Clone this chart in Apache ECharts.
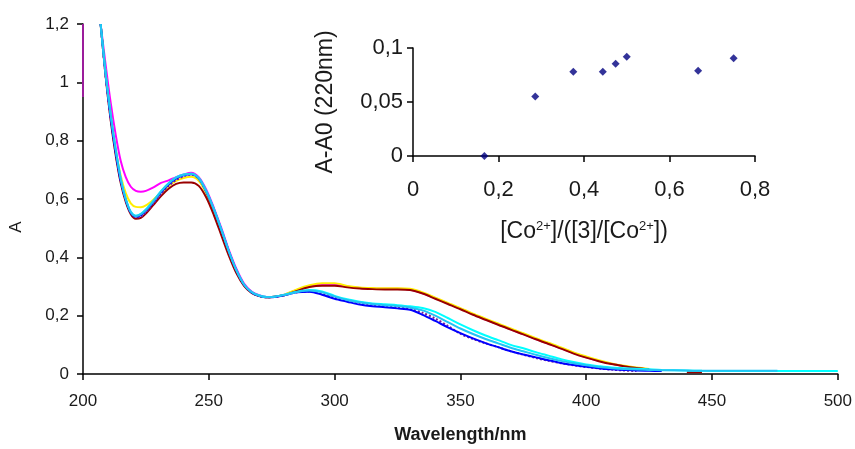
<!DOCTYPE html>
<html>
<head>
<meta charset="utf-8">
<script src="https://cdn.jsdelivr.net/npm/echarts@6/dist/echarts.min.js"></script>
<style>html,body{margin:0;padding:0;background:#fff}#c{width:855px;height:449px}</style>
</head>
<body>
<div id="c"></div>
<script>
// Wavelength grid (nm)
var wl = [207,209,211,213,215,217,219,221,223,225,228,231,234,237,240,243,246,249,252,255,258,261,264,267,270,273,276,
  280,285,290,295,300,305,310,315,320,325,330,335,340,345,350,355,360,365,370,375,380,385,390,395,400,405,410,415,420,425,430,
  440,446,460,476,500];

var magenta = [1.2,1.06,0.93,0.82,0.73,0.675,0.642,0.628,0.625,0.628,0.64,0.655,0.664,0.675,0.684,0.69,0.675,0.632,0.57,0.5,0.425,0.36,0.31,0.283,0.27,0.264,0.265,
  0.272,0.288,0.302,0.308,0.307,0.3,0.295,0.293,0.292,0.292,0.289,0.277,0.26,0.242,0.224,0.205,0.187,0.17,0.153,0.137,0.12,0.104,0.088,0.072,0.057,0.045,0.035,0.027,0.02,0.015,0.012,
  null,null,null,null,null];

var maroon = [1.2,1.02,0.87,0.75,0.655,0.59,0.548,0.532,0.535,0.55,0.58,0.61,0.635,0.652,0.657,0.657,0.645,0.605,0.545,0.475,0.405,0.345,0.302,0.278,0.267,0.263,0.265,
  0.27,0.285,0.298,0.303,0.303,0.297,0.293,0.291,0.29,0.29,0.288,0.276,0.258,0.24,0.222,0.203,0.186,0.169,0.152,0.136,0.119,0.103,0.087,0.07,0.056,0.044,0.034,0.027,0.021,0.016,null,
  0.006,0.006,null,null,null];

var yellow = [1.2,1.03,0.89,0.77,0.68,0.62,0.585,0.573,0.572,0.578,0.598,0.622,0.645,0.662,0.672,0.676,0.662,0.618,0.558,0.488,0.415,0.352,0.305,0.28,0.268,0.263,0.265,
  0.272,0.29,0.304,0.311,0.311,0.302,0.297,0.295,0.294,0.294,0.292,0.28,0.262,0.244,0.226,0.207,0.19,0.173,0.156,0.14,0.123,0.107,0.091,0.074,0.06,0.047,0.036,0.028,0.022,0.017,null,
  null,null,null,null,null];

var purple = [1.2,1.02,0.875,0.755,0.66,0.595,0.552,0.537,0.54,0.555,0.585,0.618,0.645,0.665,0.678,0.684,0.67,0.625,0.563,0.492,0.418,0.353,0.305,0.28,0.268,0.263,0.264,
  0.27,0.28,0.283,0.275,0.262,0.252,0.244,0.237,0.233,0.229,0.223,0.21,0.19,0.165,0.138,0.12,0.105,0.092,0.078,0.066,0.055,0.045,0.037,0.03,0.024,0.019,0.015,0.012,0.01,null,null,
  null,null,null,null,null];

var blue = [1.2,1.025,0.88,0.76,0.662,0.597,0.553,0.54,0.545,0.56,0.59,0.623,0.65,0.67,0.681,0.685,0.67,0.625,0.565,0.494,0.42,0.355,0.306,0.28,0.268,0.263,0.264,
  0.27,0.28,0.282,0.272,0.258,0.248,0.238,0.232,0.229,0.225,0.22,0.203,0.182,0.16,0.14,0.122,0.106,0.092,0.078,0.067,0.057,0.047,0.038,0.031,0.025,0.02,0.016,0.014,0.012,0.011,0.01,
  null,null,null,null,null];

var cyan = [1.2,1.03,0.89,0.77,0.67,0.6,0.556,0.543,0.549,0.564,0.594,0.627,0.654,0.674,0.684,0.687,0.672,0.627,0.566,0.495,0.42,0.355,0.307,0.281,0.269,0.264,0.265,
  0.272,0.282,0.288,0.283,0.268,0.256,0.248,0.242,0.239,0.236,0.232,0.226,0.213,0.192,0.17,0.15,0.132,0.116,0.1,0.088,0.075,0.063,0.051,0.041,0.033,0.027,0.022,0.02,0.018,0.016,0.014,
  0.012,0.011,0.01,0.01,0.01];

var skyblue = [1.2,1.03,0.89,0.77,0.67,0.6,0.555,0.542,0.548,0.563,0.593,0.626,0.653,0.673,0.683,0.687,0.672,0.627,0.566,0.495,0.42,0.355,0.307,0.281,0.269,0.264,0.265,
  0.271,0.281,0.286,0.28,0.266,0.254,0.246,0.24,0.236,0.233,0.228,0.218,0.2,0.178,0.156,0.137,0.12,0.105,0.09,0.078,0.066,0.055,0.045,0.037,0.03,0.024,0.02,0.017,0.015,0.014,0.013,
  0.012,0.011,0.011,0.011,null];

// short purple trace along the left edge at 200 nm
var edgeWl = [200, 200];
var edgeA = [0.95, 1.2];

// Inset: A-A0 (220 nm) vs ratio
var ratio = [0.167, 0.286, 0.375, 0.444, 0.474, 0.5, 0.667, 0.75];
var dA = [0, 0.055, 0.078, 0.078, 0.0855, 0.092, 0.079, 0.0905];

// Tick labels
var mainXTicks = [200, 250, 300, 350, 400, 450, 500];
var mainYTicks = [0, 0.2, 0.4, 0.6, 0.8, 1, 1.2];

function pairs(xs, ys) { return xs.map(function (x, i) { return [x, ys[i]]; }); }
function comma(v) { return String(+(+v).toFixed(3)).replace('.', ','); }

var chart = echarts.init(document.getElementById('c'), null, { renderer: 'canvas' });
var txt = '#1a1a1a';
var font = 'Liberation Sans, Arial, sans-serif';

function lineSeries(name, data, color, type, z) {
  return {
    name: name, type: 'line', xAxisIndex: 0, yAxisIndex: 0,
    data: pairs(wl, data), showSymbol: false, smooth: 0.3, connectNulls: false,
    lineStyle: { color: color, width: 2, type: type || 'solid' }, z: z, silent: true
  };
}

chart.setOption({
  animation: false,
  textStyle: { fontFamily: font },
  grid: [
    { left: 80, top: 24, width: 760, height: 352 },
    { left: 413, top: 48, width: 342, height: 108 }
  ],
  xAxis: [
    {
      gridIndex: 0, type: 'value', min: mainXTicks[0], max: mainXTicks[mainXTicks.length - 1], interval: 50,
      axisLine: { lineStyle: { color: '#000', width: 1.5 } },
      axisTick: { lineStyle: { color: '#000', width: 1.5 }, length: 6 },
      axisLabel: { color: txt, fontSize: 17, margin: 19, fontFamily: font },
      splitLine: { show: false },
      name: 'Wavelength/nm', nameLocation: 'middle', nameGap: 52,
      nameTextStyle: { color: txt, fontSize: 18, fontWeight: 'bold', fontFamily: font }
    },
    {
      gridIndex: 1, type: 'value', min: 0, max: 0.8, interval: 0.2,
      axisLine: { onZero: false, lineStyle: { color: '#000', width: 1.5 } },
      axisTick: { lineStyle: { color: '#000', width: 1.5 }, length: 6 },
      axisLabel: { color: txt, fontSize: 22, margin: 23, formatter: comma, fontFamily: font },
      splitLine: { show: false },
      name: '[Co{s|2+}]/([3]/[Co{s|2+}])', nameLocation: 'middle', nameGap: 64,
      nameTextStyle: { color: txt, fontSize: 23, fontFamily: font,
        rich: { s: { fontSize: 13, verticalAlign: 'top', padding: [0, 0, 11, 0], color: txt } } }
    }
  ],
  yAxis: [
    {
      gridIndex: 0, type: 'value', min: mainYTicks[0], max: mainYTicks[mainYTicks.length - 1], interval: 0.2,
      axisLine: { show: true, lineStyle: { color: '#000', width: 1.5 } },
      axisTick: { show: true, lineStyle: { color: '#000', width: 1.5 }, length: 6 },
      axisLabel: { color: txt, fontSize: 17, margin: 14, formatter: comma, fontFamily: font },
      splitLine: { show: false },
      name: 'A', nameLocation: 'middle', nameGap: 58,
      nameTextStyle: { color: txt, fontSize: 17, fontFamily: font, padding: [0, 56, 0, 0] }
    },
    {
      gridIndex: 1, type: 'value', min: 0, max: 0.1, interval: 0.05,
      axisLine: { show: true, onZero: false, lineStyle: { color: '#000', width: 1.5 } },
      axisTick: { show: true, lineStyle: { color: '#000', width: 1.5 }, length: 6 },
      axisLabel: { color: txt, fontSize: 22, margin: 10, formatter: comma, fontFamily: font },
      splitLine: { show: false },
      name: 'A-A0 (220nm)', nameLocation: 'middle', nameGap: 76,
      nameTextStyle: { color: txt, fontSize: 23, fontFamily: font }
    }
  ],
  series: [
    lineSeries('magenta', magenta, '#ff00ff', 'solid', 2),
    lineSeries('maroon', maroon, '#990000', 'solid', 3),
    lineSeries('yellow', yellow, '#ffee00', 'solid', 2),
    lineSeries('purple', purple, '#7a1f9a', 'dotted', 4),
    lineSeries('blue', blue, '#0000ff', 'solid', 4),
    lineSeries('cyan', cyan, '#00ffff', 'solid', 5),
    lineSeries('skyblue', skyblue, '#22c4f4', 'solid', 6),
    {
      name: 'edge', type: 'line', xAxisIndex: 0, yAxisIndex: 0, data: pairs(edgeWl, edgeA),
      showSymbol: false, lineStyle: { color: '#9b1d9b', width: 2 }, z: 7, silent: true
    },
    {
      name: 'inset', type: 'scatter', xAxisIndex: 1, yAxisIndex: 1, data: pairs(ratio, dA),
      symbol: 'diamond', symbolSize: 8, itemStyle: { color: '#000080' }, z: 8
    }
  ]
});
</script>
</body>
</html>
